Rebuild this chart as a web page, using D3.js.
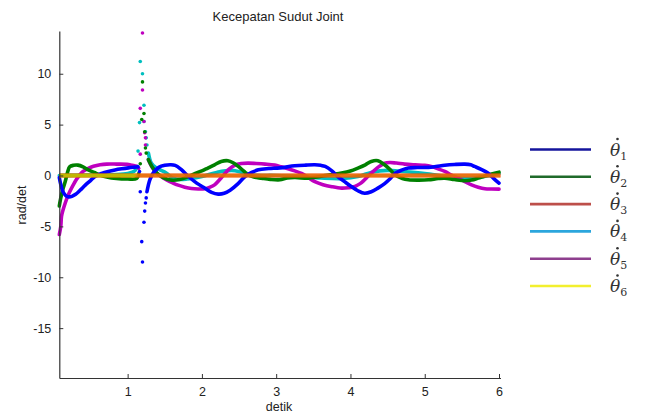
<!DOCTYPE html>
<html>
<head>
<meta charset="utf-8">
<script src="https://cdn.jsdelivr.net/npm/d3@7"></script>
<style>
  body { margin: 0; background: #fff; }
  svg { display: block; }
  text { font-family: "Liberation Sans", Arial, sans-serif; fill: #222; }
  .legend text { font-family: "DejaVu Serif", serif; font-style: italic; fill: #333; }
</style>
</head>
<body>
<svg width="646" height="414"></svg>
<script>
// joint velocity series, [detik, rad/det]
const theta1 = [[0.08,-0.2],[0.10,-0.9],[0.13,-1.6],[0.17,-2.0],[0.21,-2.1],[0.25,-2.05],[0.30,-1.85],[0.36,-1.45],[0.43,-0.95],[0.50,-0.5],[0.56,-0.1],[0.65,0.2],[0.74,0.4],[0.83,0.55],[0.92,0.66],[1.01,0.75],[1.10,0.82],[1.14,0.85]];
const theta1b = [[1.26,-1.6],[1.30,-0.4],[1.35,0.3],[1.42,0.8],[1.50,1.0],[1.57,1.05],[1.64,1.0],[1.72,0.6],[1.82,-0.1],[1.93,-0.75],[2.04,-1.25],[2.13,-1.65],[2.22,-1.83],[2.30,-1.75],[2.38,-1.45],[2.48,-0.85],[2.58,-0.1],[2.67,0.3],[2.76,0.56],[2.9,0.68],[3.05,0.75],[3.25,0.95],[3.40,1.02],[3.52,1.05],[3.60,1.0],[3.66,0.89],[3.75,0.45],[3.83,-0.1],[3.92,-0.6],[4.01,-1.08],[4.10,-1.5],[4.19,-1.75],[4.28,-1.6],[4.37,-1.24],[4.46,-0.8],[4.53,-0.35],[4.60,0.2],[4.68,0.5],[4.78,0.73],[4.90,0.78],[5.05,0.8],[5.15,0.88],[5.27,1.0],[5.40,1.08],[5.54,1.12],[5.62,1.05],[5.67,0.89],[5.76,0.6],[5.85,0.24],[5.93,-0.3],[6.0,-0.75]];
const theta1Spike = [[1.16,0.4],[1.17,-1.6],[1.19,-6.5],[1.20,-8.5],[1.22,-4.6],[1.23,-3.5],[1.24,-2.7],[1.25,-2.2]];

const theta2 = [[0.08,-3.0],[0.10,-2.2],[0.13,-1.3],[0.16,-0.6],[0.19,0.3],[0.22,0.85],[0.27,1.0],[0.33,1.02],[0.40,0.85],[0.47,0.55],[0.55,0.3],[0.63,0.05],[0.72,-0.15],[0.85,-0.3],[1.0,-0.35],[1.12,-0.3],[1.15,0.2]];
const theta2b = [[1.28,1.55],[1.34,0.73],[1.40,0.2],[1.48,-0.2],[1.58,-0.45],[1.70,-0.4],[1.80,-0.15],[1.91,0.2],[2.00,0.45],[2.08,0.73],[2.17,1.05],[2.26,1.38],[2.35,1.45],[2.42,1.25],[2.49,0.89],[2.56,0.45],[2.62,0.07],[2.70,-0.15],[2.80,-0.26],[2.92,-0.38],[3.05,-0.42],[3.15,-0.25],[3.25,-0.2],[3.43,-0.26],[3.55,-0.15],[3.66,0.0],[3.78,0.12],[3.88,0.24],[4.0,0.45],[4.10,0.73],[4.20,1.05],[4.28,1.38],[4.37,1.45],[4.45,1.1],[4.53,0.6],[4.60,0.07],[4.70,-0.3],[4.78,-0.42],[4.92,-0.45],[5.05,-0.42],[5.18,-0.3],[5.27,-0.26],[5.40,-0.4],[5.54,-0.52],[5.63,-0.45],[5.72,-0.26],[5.81,-0.05],[5.90,0.14],[6.0,0.33]];
const theta2Spike = [[1.17,1.15],[1.19,5.5],[1.20,9.2],[1.22,6.1],[1.23,4.3],[1.24,2.7],[1.25,2.2]];

const theta3 = [[0.08,0],[6.02,0]];

const theta4 = [[0.08,0],[0.3,0.02],[0.6,0.05],[0.85,0.1],[1.0,0.2],[1.05,0.3],[1.10,0.5],[1.13,0.9]];
const theta4b = [[1.28,2.2],[1.32,1.2],[1.39,0.73],[1.52,0.24],[1.62,-0.3],[1.8,-0.35],[2.0,-0.1],[2.2,0.3],[2.4,0.5],[2.55,0.3],[2.7,0.05],[3.0,0.0],[3.3,-0.1],[3.6,-0.25],[3.9,-0.3],[4.1,-0.1],[4.3,0.35],[4.5,0.5],[4.7,0.4],[5.0,0.2],[5.3,-0.1],[5.6,-0.3],[5.8,-0.1],[6.0,0.2]];
const theta4Spike = [[1.14,2.4],[1.16,5.2],[1.17,11.2],[1.20,10.0],[1.22,6.9],[1.22,5.3],[1.24,4.3],[1.25,3.7],[1.26,3.0]];

const theta5 = [[0.08,-5.8],[0.10,-5.0],[0.11,-4.0],[0.13,-3.4],[0.16,-2.7],[0.19,-2.1],[0.22,-1.6],[0.27,-0.9],[0.31,-0.4],[0.36,0.1],[0.40,0.4],[0.47,0.7],[0.54,0.9],[0.63,1.05],[0.72,1.12],[0.85,1.12],[0.99,1.1],[1.06,1.0],[1.12,0.9],[1.15,0.7]];
const theta5b = [[1.28,1.55],[1.33,0.8],[1.39,0.24],[1.46,-0.15],[1.53,-0.45],[1.60,-0.7],[1.68,-0.95],[1.77,-1.15],[1.86,-1.28],[1.95,-1.32],[2.04,-1.3],[2.11,-1.15],[2.17,-0.92],[2.24,-0.4],[2.31,0.2],[2.37,0.65],[2.44,1.0],[2.53,1.18],[2.62,1.22],[2.73,1.18],[2.85,1.12],[2.98,1.02],[3.07,0.85],[3.16,0.66],[3.25,0.45],[3.34,0.2],[3.43,-0.2],[3.52,-0.6],[3.63,-0.9],[3.75,-1.1],[3.88,-1.24],[3.97,-1.2],[4.06,-1.08],[4.13,-0.8],[4.19,-0.42],[4.26,0.1],[4.33,0.56],[4.40,0.95],[4.46,1.2],[4.53,1.28],[4.62,1.22],[4.73,1.12],[4.87,1.05],[5.0,1.0],[5.10,0.85],[5.18,0.65],[5.27,0.4],[5.36,0.05],[5.45,-0.26],[5.54,-0.6],[5.63,-0.92],[5.72,-1.15],[5.81,-1.3],[5.90,-1.33],[6.0,-1.34]];
const theta5Spike = [[1.17,2.1],[1.17,6.6],[1.20,14.0],[1.20,8.4],[1.22,5.3],[1.23,4.2],[1.24,3.7],[1.24,3.0]];

const theta6 = [[0.08,0],[6.02,0]];

const xTicks = [1, 2, 3, 4, 5, 6];
const yTicks = [-15, -10, -5, 0, 5, 10];
const legendLabels = ['1', '2', '3', '4', '5', '6'];
const legendColors = ['#14149c', '#1f6a2a', '#bd4f4a', '#2ba6dd', '#8e3f8e', '#f2ef2e'];

const svg = d3.select('svg');

const x = d3.scaleLinear().domain([0.08, 6.02]).range([59.3, 500.5]);
const y = d3.scaleLinear().domain([-19.9, 14.2]).range([378, 31]);

const line = d3.line()
    .x(d => x(d[0]))
    .y(d => y(d[1]))
    .curve(d3.curveCatmullRom);

const plot = svg.append('g');

// zero lines: red under, olive on top (fades to orange mix after the jump)
const grad = svg.append('defs').append('linearGradient')
    .attr('id', 'zeroMix').attr('gradientUnits', 'userSpaceOnUse')
    .attr('x1', x(0.08)).attr('x2', x(6.02)).attr('y1', 0).attr('y2', 0);
grad.append('stop').attr('offset', (1.08 - 0.08) / 5.94).attr('stop-color', '#bfbf00').attr('stop-opacity', 0.95);
grad.append('stop').attr('offset', (1.15 - 0.08) / 5.94).attr('stop-color', '#d6c000').attr('stop-opacity', 0.5);

const series = [
    {parts: [theta4, theta4b], dots: theta4Spike, color: '#00bfbf'},
    {parts: [theta5, theta5b], dots: theta5Spike, color: '#bf00bf'},
    {parts: [theta2, theta2b], dots: theta2Spike, color: '#008000'},
    {parts: [theta1, theta1b], dots: theta1Spike, color: '#0000ff'}
];

series.forEach(s => {
    s.parts.forEach(p => {
        plot.append('path')
            .attr('d', line(p))
            .attr('fill', 'none')
            .attr('stroke', s.color)
            .attr('stroke-width', 3.6)
            .attr('stroke-linecap', 'round');
    });
    plot.selectAll(null)
        .data(s.dots)
        .enter()
        .append('circle')
        .attr('cx', d => x(d[0]))
        .attr('cy', d => y(d[1]))
        .attr('r', 1.8)
        .attr('fill', s.color);
});

plot.append('path')
    .attr('d', line(theta3))
    .attr('fill', 'none')
    .attr('stroke', '#ff0000')
    .attr('stroke-opacity', 0.85)
    .attr('stroke-width', 4);
plot.append('path')
    .attr('d', line(theta6))
    .attr('fill', 'none')
    .attr('stroke', 'url(#zeroMix)')
    .attr('stroke-width', 4);

// axes, ticks pointing inward, only left + bottom
const xAxis = svg.append('g')
    .attr('transform', `translate(0,${y.range()[0]})`)
    .call(d3.axisBottom(x).tickValues(xTicks).tickFormat(d3.format('d'))
        .tickSizeInner(-4).tickSizeOuter(0).tickPadding(9));
const yAxis = svg.append('g')
    .attr('transform', `translate(${x.range()[0]},0)`)
    .call(d3.axisLeft(y).tickValues(yTicks).tickFormat(d => String(d))
        .tickSizeInner(-4).tickSizeOuter(0).tickPadding(8));

[xAxis, yAxis].forEach(a => {
    a.select('.domain').attr('stroke', '#333').attr('stroke-width', 1.2);
    a.selectAll('.tick line').attr('stroke', '#333');
    a.selectAll('.tick text').style('font-size', '12.5px').attr('fill', '#222');
});

svg.append('text')
    .attr('x', 278).attr('y', 21)
    .attr('text-anchor', 'middle')
    .style('font-size', '13px')
    .text('Kecepatan Sudut Joint');

svg.append('text')
    .attr('x', 279).attr('y', 411)
    .attr('text-anchor', 'middle')
    .style('font-size', '12.5px')
    .text('detik');

svg.append('text')
    .attr('transform', 'translate(26,205) rotate(-90)')
    .attr('text-anchor', 'middle')
    .style('font-size', '12.5px')
    .text('rad/det');

// legend
const legend = svg.append('g').attr('class', 'legend');
const ly = d3.scalePoint().domain(legendLabels).range([149.5, 286]);
legendLabels.forEach((lab, i) => {
    legend.append('line')
        .attr('x1', 530).attr('x2', 591)
        .attr('y1', ly(lab)).attr('y2', ly(lab))
        .attr('stroke', legendColors[i])
        .attr('stroke-width', 2.6);
    const t = legend.append('text')
        .attr('x', 610).attr('y', ly(lab) + 6)
        .style('font-size', '17px');
    t.append('tspan').text('\u03b8');
    t.append('tspan').attr('dy', 4).style('font-size', '11px').style('font-style', 'normal').text(lab);
    // the dot over theta
    legend.append('circle')
        .attr('cx', 617.5).attr('cy', ly(lab) - 10.5)
        .attr('r', 1.3)
        .attr('fill', '#333');
});
</script>
</body>
</html>
